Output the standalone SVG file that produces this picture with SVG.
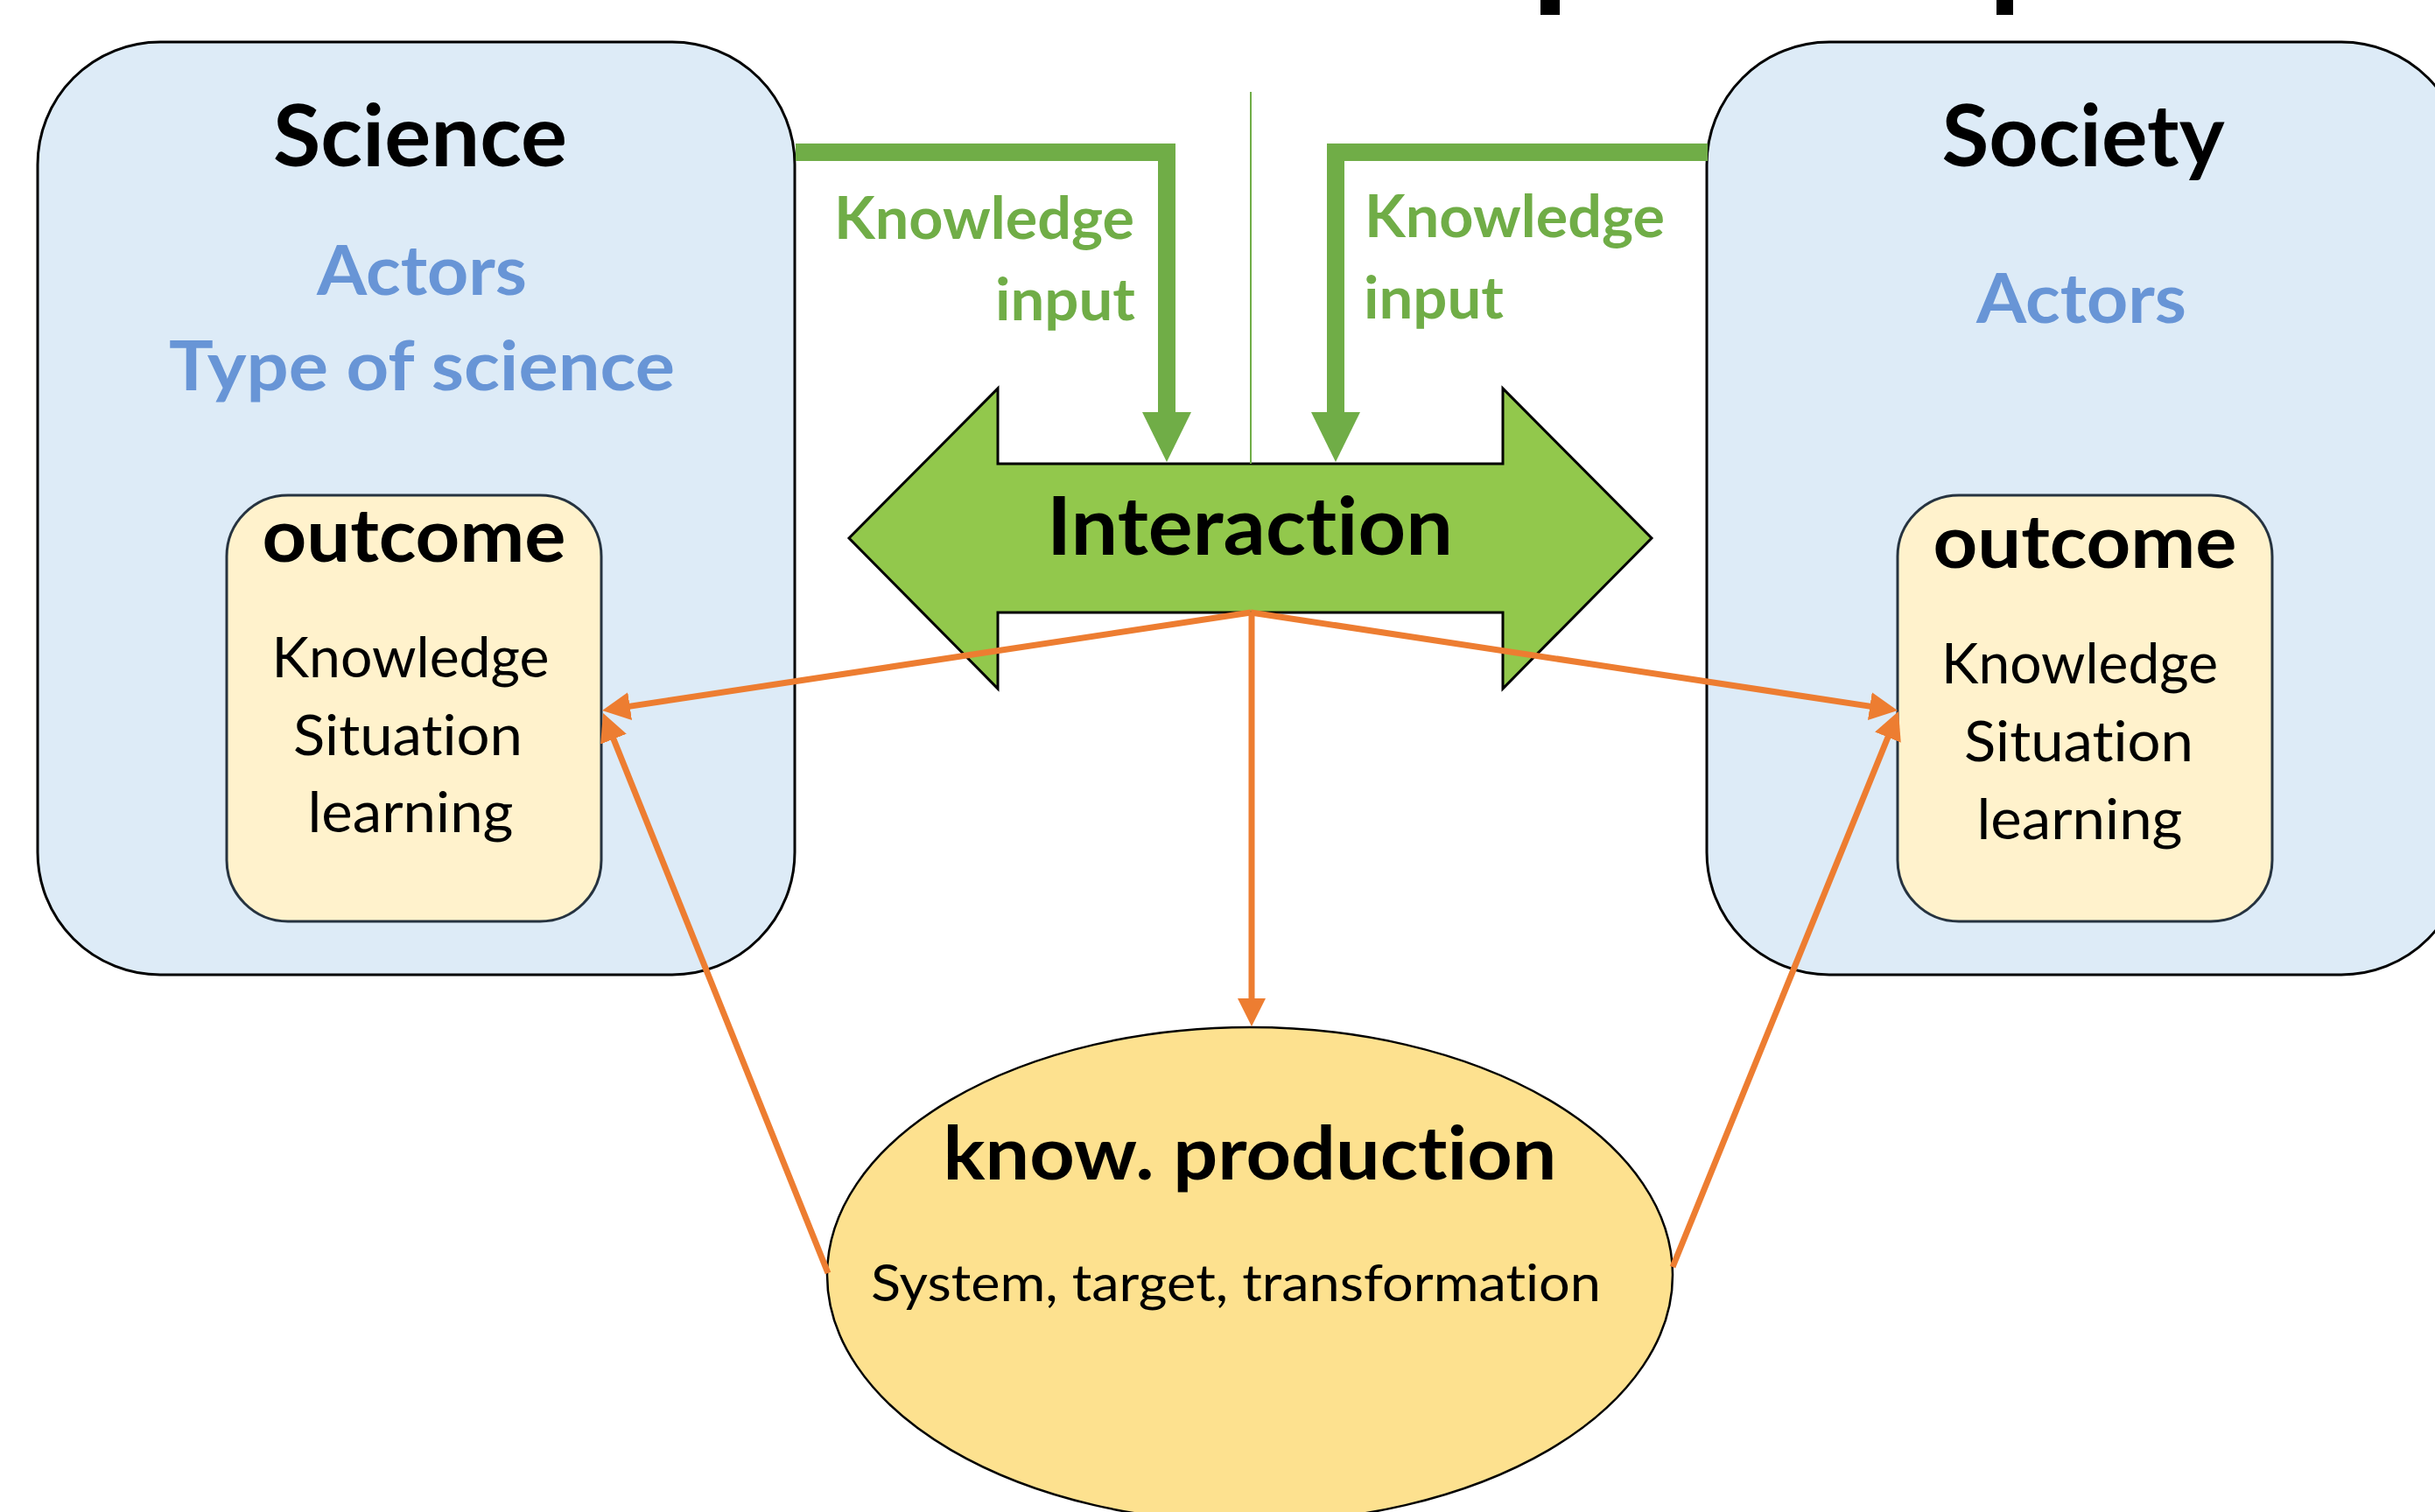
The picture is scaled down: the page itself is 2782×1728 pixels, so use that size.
<svg xmlns="http://www.w3.org/2000/svg" width="2782" height="1728" viewBox="0 0 2782 1728">
<defs>
<style>
.box{fill:#DDEBF7;stroke:#000;stroke-width:3}
.out{fill:#FFF2CC;stroke:#263340;stroke-width:3}
.t{font-family:Lato,"Open Sans","Liberation Sans",sans-serif;font-variant-ligatures:none;font-feature-settings:"liga" 0,"dlig" 0}
.b{font-weight:700}
.blk{fill:#000}
.blue{fill:#6895D6}
.grn{fill:#70AD47}
.ga{fill:none;stroke:#70AD47;stroke-width:20;stroke-linejoin:miter}
.oa{fill:none;stroke:#ED7D31;stroke-width:7}
</style>
<marker id="oh" viewBox="0 0 32 32" markerUnits="userSpaceOnUse" markerWidth="32" markerHeight="32" refX="23" refY="16" orient="auto">
<path d="M0,0 L32,16 L0,32 z" fill="#ED7D31"/>
</marker>
</defs>
<rect width="2782" height="1728" fill="#fff"/>
<rect x="1760" y="0" width="22" height="17" fill="#000"/>
<rect x="2281" y="0" width="19" height="17" fill="#000"/>

<g id="science">
<rect class="box" x="43" y="48" width="865" height="1066" rx="140"/>
<text class="t b blk" x="480" y="190" font-size="97" text-anchor="middle" textLength="336" lengthAdjust="spacingAndGlyphs">Science</text>
<text class="t b blue" x="482" y="337" font-size="79" text-anchor="middle" textLength="240" lengthAdjust="spacingAndGlyphs">Actors</text>
<text class="t b blue" x="482" y="446" font-size="79" text-anchor="middle" textLength="578" lengthAdjust="spacingAndGlyphs">Type of science</text>
</g>
<g id="science-outcome">
<rect class="out" x="259" y="566" width="428" height="487" rx="70"/>
<text class="t b blk" x="473" y="642" font-size="84" text-anchor="middle" textLength="347" lengthAdjust="spacingAndGlyphs">outcome</text>
<text class="t blk" x="469" y="774" font-size="63" text-anchor="middle" textLength="317" lengthAdjust="spacingAndGlyphs">Knowledge</text>
<text class="t blk" x="466" y="863" font-size="63" text-anchor="middle" textLength="262" lengthAdjust="spacingAndGlyphs">Situation</text>
<text class="t blk" x="469" y="951" font-size="63" text-anchor="middle" textLength="235" lengthAdjust="spacingAndGlyphs">learning</text>
</g>

<g id="society">
<rect class="box" x="1950" y="48" width="865" height="1066" rx="140"/>
<text class="t b blk" x="2380" y="190" font-size="97" text-anchor="middle" textLength="323" lengthAdjust="spacingAndGlyphs">Society</text>
<text class="t b blue" x="2378" y="369" font-size="79" text-anchor="middle" textLength="240" lengthAdjust="spacingAndGlyphs">Actors</text>
</g>
<g id="society-outcome">
<rect class="out" x="2168" y="566" width="428" height="487" rx="70"/>
<text class="t b blk" x="2382" y="649" font-size="84" text-anchor="middle" textLength="347" lengthAdjust="spacingAndGlyphs">outcome</text>
<text class="t blk" x="2376" y="781" font-size="63" text-anchor="middle" textLength="316" lengthAdjust="spacingAndGlyphs">Knowledge</text>
<text class="t blk" x="2375" y="870" font-size="63" text-anchor="middle" textLength="262" lengthAdjust="spacingAndGlyphs">Situation</text>
<text class="t blk" x="2376" y="959" font-size="63" text-anchor="middle" textLength="235" lengthAdjust="spacingAndGlyphs">learning</text>
</g>

<g id="interaction">
<polygon points="970,615 1140,444 1140,530 1717,530 1717,444 1887,615 1717,787 1717,700 1140,700 1140,787" fill="#92C84C" stroke="#000" stroke-width="3" stroke-linejoin="miter"/>
<text class="t b blk" x="1428" y="634" font-size="91" text-anchor="middle" textLength="464" lengthAdjust="spacingAndGlyphs">Interaction</text>
</g>

<g id="knowledge-production">
<ellipse cx="1428" cy="1457" rx="483" ry="283" fill="#FDE18F" stroke="#000" stroke-width="2.5"/>
<text class="t b blk" x="1428" y="1348" font-size="85" text-anchor="middle" textLength="701" lengthAdjust="spacingAndGlyphs">know. production</text>
<text class="t blk" x="995" y="1487" font-size="59" textLength="834" lengthAdjust="spacingAndGlyphs">System, target, transformation</text>
</g>

<g id="labels">
<text class="t b grn" x="1296" y="273" font-size="66" text-anchor="end" textLength="343" lengthAdjust="spacingAndGlyphs">Knowledge</text>
<text class="t b grn" x="1297" y="366" font-size="66" text-anchor="end" textLength="160" lengthAdjust="spacingAndGlyphs">input</text>
<text class="t b grn" x="1559" y="271" font-size="66" textLength="343" lengthAdjust="spacingAndGlyphs">Knowledge</text>
<text class="t b grn" x="1558" y="364" font-size="66" textLength="160" lengthAdjust="spacingAndGlyphs">input</text>
</g>

<g id="connectors">
<line x1="1429" y1="105" x2="1429" y2="530" stroke="#70AD47" stroke-width="2"/>
<path class="ga" d="M909,174 H1333 V474"/>
<polygon points="1305,471 1361,471 1333,528" fill="#70AD47"/>
<path class="ga" d="M1951,174 H1526 V474"/>
<polygon points="1498,471 1554,471 1526,528" fill="#70AD47"/>
<line class="oa" x1="1429" y1="700" x2="696.9" y2="810.6" marker-end="url(#oh)"/>
<line class="oa" x1="1429" y1="700" x2="2159.1" y2="810.6" marker-end="url(#oh)"/>
<line class="oa" x1="1430" y1="700" x2="1430" y2="1164" marker-end="url(#oh)"/>
<line class="oa" x1="946" y1="1455" x2="692.4" y2="823.3" marker-end="url(#oh)"/>
<line class="oa" x1="1911" y1="1448" x2="2165.6" y2="821.3" marker-end="url(#oh)"/>
</g>
</svg>
